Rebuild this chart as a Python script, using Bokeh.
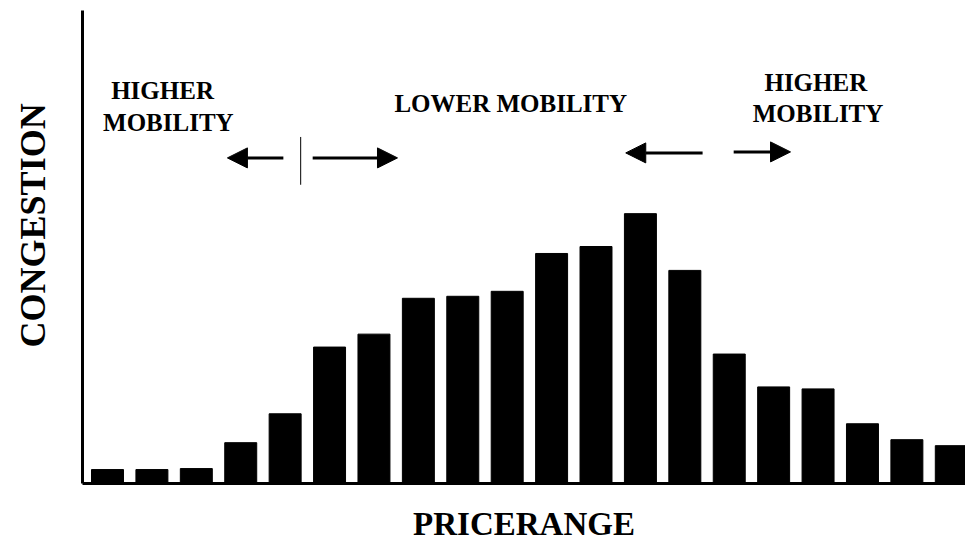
from bokeh.plotting import figure
from bokeh.models import Range1d, Label, Arrow, NormalHead, FixedTicker
from bokeh.embed import file_html
from bokeh.resources import INLINE

# Data
price_bins = list(range(1, 21))
congestion = [14, 14, 15, 41, 70, 137, 150, 186, 188, 193,
              231, 238, 271, 214, 130, 97, 95, 60, 44, 38]

x_title = "PRICERANGE"
y_title = "CONGESTION"

FONT = "Liberation Serif"

p = figure(width=965, height=544, output_backend="svg", toolbar_location=None,
           x_range=Range1d(0.437, 20.32), y_range=Range1d(0, 475),
           min_border_left=82, min_border_right=0, min_border_top=10,
           min_border_bottom=59)

p.vbar(x=price_bins, top=congestion, width=0.72, color="black")

p.outline_line_color = None
p.grid.visible = False
p.background_fill_color = "white"

for ax in (p.xaxis[0], p.yaxis[0]):
    ax.ticker = FixedTicker(ticks=[])   # no ticks are drawn
    ax.major_tick_line_color = None
    ax.minor_tick_line_color = None
    ax.major_tick_out = 0
    ax.major_tick_in = 0
    ax.minor_tick_out = 0
    ax.major_label_standoff = 0
    ax.axis_line_color = "black"
    ax.axis_line_width = 3
    ax.axis_label_text_font = FONT
    ax.axis_label_text_font_style = "bold"
    ax.axis_label_text_color = "black"

p.xaxis.axis_label = x_title
p.xaxis.axis_label_text_font_size = "33px"
p.xaxis.axis_label_standoff = 22

# leading em + thin space nudges the centred title towards the top
p.yaxis.axis_label = "\u2003\u2009" + y_title
p.yaxis.axis_label_text_font_size = "36px"
p.yaxis.axis_label_standoff = 30

# Annotations
def lab(x, y, t):
    p.add_layout(Label(x=x, y=y, text=t, text_align="center",
                       text_baseline="alphabetic", text_font=FONT,
                       text_font_style="bold", text_font_size="25px",
                       text_color="black"))

lab(2.24, 395, "HIGHER")
lab(2.37, 363, "MOBILITY")
lab(10.08, 382, "LOWER MOBILITY")
lab(16.95, 403, "HIGHER")
lab(17.0, 372, "MOBILITY")

def arrow(x0, x1, y):
    p.add_layout(Arrow(x_start=x0, y_start=y, x_end=x1, y_end=y,
                       line_width=3, line_color="black",
                       end=NormalHead(size=20, fill_color="black",
                                      line_color="black")))

arrow(4.96, 3.70, 327)
arrow(5.62, 7.53, 327)
arrow(14.40, 12.67, 332)
arrow(15.10, 16.38, 333)

p.segment(x0=[5.35], y0=[300], x1=[5.35], y1=[348], line_color="black", line_width=1)

open("out.html", "w").write(file_html(p, INLINE))
